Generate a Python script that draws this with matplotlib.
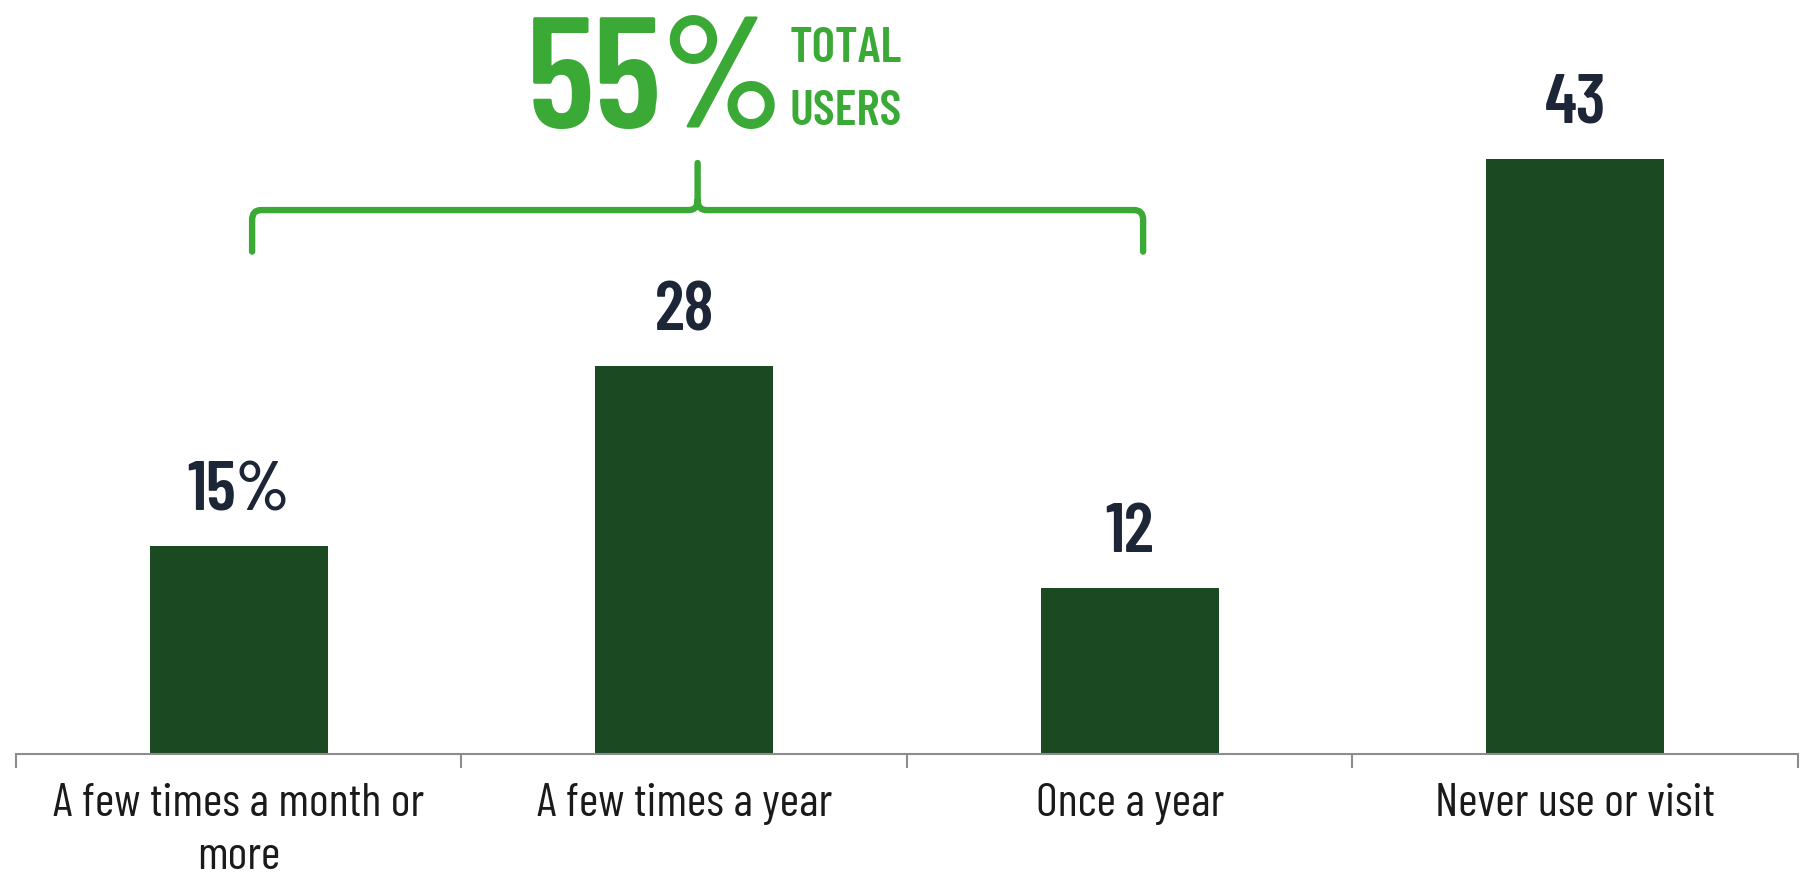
import matplotlib
matplotlib.use('Agg')
import matplotlib.pyplot as plt
from matplotlib import font_manager
from matplotlib.path import Path
from matplotlib.patches import PathPatch

categories = ['A few times a month or\nmore', 'A few times a year', 'Once a year', 'Never use or visit']
values = [15, 28, 12, 43]
value_labels = ['15%', '28', '12', '43']
total_big = '55%'
total_words = ['TOTAL', 'USERS']

BAR = '#1b4922'
NAVY = '#1c2637'
GREEN = '#3aa935'
AXIS = '#8c8c8c'

# narrow sans for everything, with fallbacks
installed = {f.name for f in font_manager.fontManager.ttflist}
font = 'DejaVu Sans'
for cand in ['Barlow Condensed', 'Roboto Condensed', 'Liberation Sans Narrow']:
    if cand in installed:
        font = cand
        break
plt.rcParams['font.family'] = [font, 'DejaVu Sans']

fig = plt.figure(figsize=(18.06, 8.75), dpi=100)
ax = fig.add_axes([16 / 1806, 121 / 875, 1782 / 1806, 754 / 875])

x = list(range(len(values)))
ax.bar(x, values, width=0.4, color=BAR)

for xi, v, lab in zip(x, values, value_labels):
    ax.text(xi, v + 2.6, lab, ha='center', va='baseline', fontsize=50,
            fontweight='semibold', color=NAVY)

ax.set_xlim(-0.5, 3.5)
ax.set_ylim(0, 54.48)

for s in ['top', 'left', 'right']:
    ax.spines[s].set_visible(False)
ax.spines['bottom'].set_color(AXIS)
ax.spines['bottom'].set_linewidth(1.5)
ax.set_yticks([])

ax.set_xticks(x)
ax.set_xticklabels(categories, fontsize=34, color='#1a1a1a', linespacing=1.32)
ax.tick_params(axis='x', which='major', length=0, pad=21)
ax.set_xticks([-0.5, 0.5, 1.5, 2.5, 3.5], minor=True)
ax.tick_params(axis='x', which='minor', length=10, width=1.5, color=AXIS, direction='out')

# brace over the first three bars
x0, x1 = 0.03, 2.03
xm = (x0 + x1) / 2
y_end, y_h, y_tip = 36.3, 39.3, 42.7
rx, ry = 0.02, 0.7
verts = [(x0, y_end), (x0, y_h - ry), (x0, y_h), (x0 + rx, y_h),
         (xm - rx, y_h), (xm, y_h), (xm, y_h + ry), (xm, y_tip),
         (xm, y_h + ry), (xm, y_h), (xm + rx, y_h),
         (x1 - rx, y_h), (x1, y_h), (x1, y_h - ry), (x1, y_end)]
codes = [Path.MOVETO, Path.LINETO, Path.CURVE3, Path.CURVE3,
         Path.LINETO, Path.CURVE3, Path.CURVE3, Path.LINETO,
         Path.MOVETO, Path.CURVE3, Path.CURVE3,
         Path.LINETO, Path.CURVE3, Path.CURVE3, Path.LINETO]
ax.add_patch(PathPatch(Path(verts, codes), fill=False, edgecolor=GREEN, lw=4.6,
                       capstyle='round', joinstyle='round'))

ax.text(0.647, 45.2, total_big, ha='left', va='baseline', fontsize=114,
        fontweight='semibold', color=GREEN)
ax.text(1.237, 50.0, total_words[0], ha='left', va='baseline', fontsize=36,
        fontweight='semibold', color=GREEN)
ax.text(1.237, 45.45, total_words[1], ha='left', va='baseline', fontsize=36,
        fontweight='semibold', color=GREEN)

fig.savefig('out.png', dpi=100, facecolor='white')
